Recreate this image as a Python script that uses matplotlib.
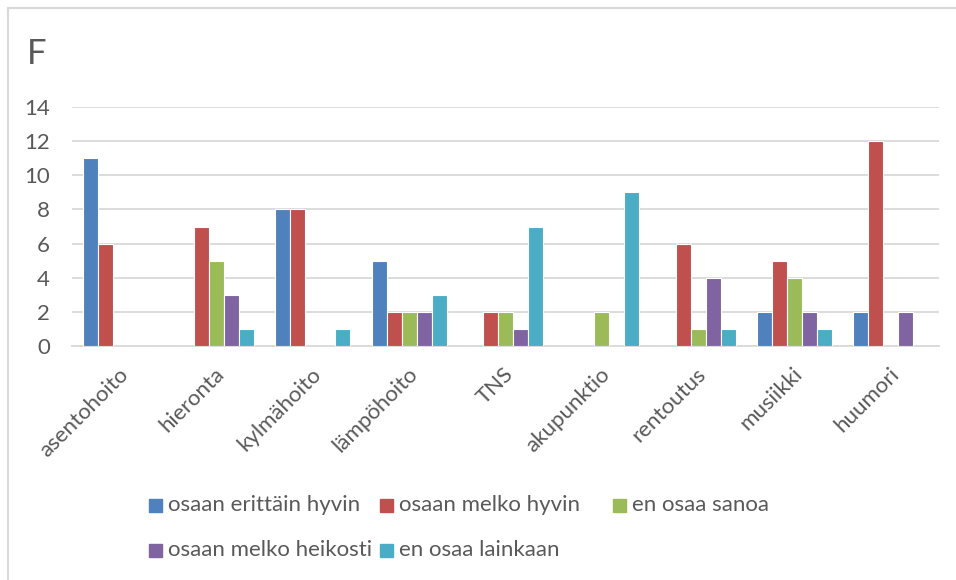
import numpy as np
import matplotlib.pyplot as plt
from matplotlib.lines import Line2D
from matplotlib.patches import Rectangle
from matplotlib.transforms import ScaledTranslation

categories = ['asentohoito', 'hieronta', 'kylmähoito', 'lämpöhoito', 'TNS',
              'akupunktio', 'rentoutus', 'musiikki', 'huumori']
series_names = ['osaan erittäin hyvin', 'osaan melko hyvin', 'en osaa sanoa',
                'osaan melko heikosti', 'en osaa lainkaan']
erittain_hyvin = [11, 0, 8, 5, 0, 0, 0, 2, 2]
melko_hyvin = [6, 7, 8, 2, 2, 0, 6, 5, 12]
ei_osaa_sanoa = [0, 5, 0, 2, 2, 2, 1, 4, 0]
melko_heikosti = [0, 3, 0, 2, 1, 0, 4, 2, 2]
ei_lainkaan = [0, 1, 1, 3, 7, 9, 1, 1, 0]
yticks = [0, 2, 4, 6, 8, 10, 12, 14]

series = [erittain_hyvin, melko_hyvin, ei_osaa_sanoa, melko_heikosti, ei_lainkaan]
colors = ['#4F81BD', '#C0504D', '#9BBB59', '#8064A2', '#4BACC6']
txt = '#595959'
grid = '#D9D9D9'

plt.rcParams['font.family'] = ['Lato', 'DejaVu Sans']

fig = plt.figure(figsize=(9.56, 5.8), dpi=100)
ax = fig.add_axes([72/956, 1 - 346/580, 867/956, 239/580])

x = np.arange(len(categories))
w = 0.156
for i, vals in enumerate(series):
    ax.bar(x + (i - 2) * w, vals, width=w, color=colors[i],
           edgecolor='white', linewidth=0.8, zorder=3)

ax.set_xlim(-0.5, len(categories) - 0.5)
ax.set_ylim(0, 14)
ax.set_yticks(yticks)
ax.yaxis.grid(True, color=grid, linewidth=1.3, zorder=0)
for s in ['top', 'right', 'left']:
    ax.spines[s].set_visible(False)
ax.spines['bottom'].set_color(grid)
ax.spines['bottom'].set_linewidth(1.3)
ax.tick_params(axis='y', length=0, pad=16, labelsize=16, labelcolor=txt)
ax.tick_params(axis='x', length=0, pad=13, labelsize=16, labelcolor=txt)
ax.set_xticks(x)
ax.set_xticklabels(categories, rotation=45, ha='right', rotation_mode='anchor')
# nudge rotated labels a little to the left, like excel does
shift = ScaledTranslation(-2/100, 0, fig.dpi_scale_trans)
for lab in ax.get_xticklabels():
    lab.set_transform(lab.get_transform() + shift)

fig.text(27/956, 1 - 38/580, 'F', fontsize=25, color=txt, va='top', ha='left')

# legend laid out like excel: equal width columns, rows filled left to right
col_x = [149, 380, 613]
row_y = [505, 550]
for i, name in enumerate(series_names):
    r, c = divmod(i, 3)
    fig.add_artist(Rectangle(((col_x[c]) / 956, 1 - (row_y[r] + 7) / 580),
                             13/956, 13/580, transform=fig.transFigure,
                             color=colors[i]))
    fig.text((col_x[c] + 19) / 956, 1 - row_y[r] / 580, name, fontsize=16,
             color=txt, va='center', ha='left')

# chart frame (only top and left edges visible in the crop)
fig.add_artist(Line2D([7.5/956, 1], [1 - 7.5/580, 1 - 7.5/580],
                      transform=fig.transFigure, color=grid, linewidth=1.5))
fig.add_artist(Line2D([7.5/956, 7.5/956], [0, 1 - 7.5/580],
                      transform=fig.transFigure, color=grid, linewidth=1.5))

fig.savefig('out.png', dpi=100)
